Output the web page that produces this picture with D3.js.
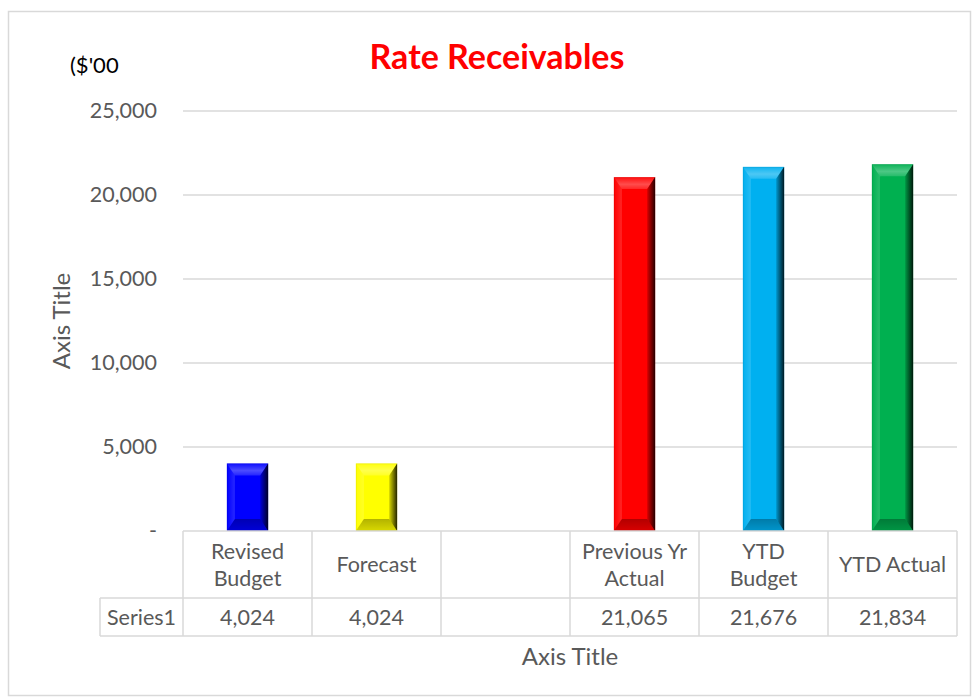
<!DOCTYPE html>
<html>
<head>
<meta charset="utf-8">
<script src="https://cdn.jsdelivr.net/npm/d3@7"></script>
<style>
  html, body { margin: 0; padding: 0; background: #fff; }
  svg { display: block; font-family: Lato, "Open Sans", sans-serif; }
</style>
</head>
<body>
<svg id="chart" width="974" height="698"></svg>
<script>
// Rate receivables by category ($'00)
const categories = [["Revised", "Budget"], ["Forecast"], [], ["Previous Yr", "Actual"], ["YTD", "Budget"], ["YTD Actual"]];
const values = [4024, 4024, null, 21065, 21676, 21834];
const barColors = ["#0000FF", "#FFFF00", "#FFFFFF", "#FF0000", "#00B0F0", "#00B050"];
const yTicks = [0, 5000, 10000, 15000, 20000, 25000];
const seriesName = "Series1";

const svg = d3.select("#chart");
const grey = "#595959";
const lineGrey = "#d9d9d9";

// chart frame
svg.append("rect").attr("x", 8.5).attr("y", 11.5).attr("width", 962).attr("height", 684)
  .attr("fill", "#fff").attr("stroke", lineGrey).attr("stroke-width", 1.5);

const plot = { left: 183, right: 957, top: 111, bottom: 531 };

const x = d3.scaleBand().domain(d3.range(categories.length))
  .range([plot.left, plot.right]).paddingInner(0).paddingOuter(0);
const y = d3.scaleLinear().domain([0, 25000]).range([plot.bottom, plot.top]);

// gradients used as bevel overlays
const defs = svg.append("defs");
function grad(id, x1, y1, x2, y2, stops) {
  const g = defs.append("linearGradient").attr("id", id)
    .attr("x1", x1).attr("y1", y1).attr("x2", x2).attr("y2", y2);
  stops.forEach(s => g.append("stop").attr("offset", s[0]).attr("stop-color", s[1]).attr("stop-opacity", s[2]));
}
grad("bevTop", 0, 0, 0, 1, [[0, "#fff", 0.05], [0.6, "#fff", 0.3], [1, "#fff", 0.15]]);
grad("bevBottom", 0, 0, 0, 1, [[0, "#000", 0.3], [1, "#000", 0.15]]);
grad("bevLeft", 0, 0, 1, 0, [[0, "#fff", 0.0], [1, "#fff", 0.15]]);
grad("bevRight", 0, 0, 1, 0, [[0, "#000", 0.15], [1, "#000", 0.85]]);

// gridlines + y axis
const yAxis = d3.axisLeft(y).tickValues(yTicks)
  .tickFormat(d => d === 0 ? "-" : d3.format(",")(d))
  .tickSize(0).tickPadding(26);
const ga = svg.append("g").attr("transform", `translate(${plot.left},0)`).call(yAxis);
ga.select(".domain").remove();
ga.selectAll("text").attr("fill", grey).style("font-size", "21.5px")
  .style("font-family", "Lato, sans-serif");

svg.append("g").selectAll("line").data(yTicks.filter(d => d > 0)).join("line")
  .attr("x1", plot.left).attr("x2", plot.right)
  .attr("y1", d => y(d)).attr("y2", d => y(d))
  .attr("stroke", lineGrey).attr("stroke-width", 1.5);

// bars with bevelled edges
const bw = x.bandwidth() * 0.32;
const bevSide = 8, bevEnd = 12;
const bars = svg.append("g").selectAll("g").data(values.map((v, i) => ({ v, i })).filter(d => d.v != null))
  .join("g");
bars.each(function (d) {
  const g = d3.select(this);
  const x0 = x(d.i) + (x.bandwidth() - bw) / 2, x1 = x0 + bw;
  const y0 = y(d.v), y1 = y(0);
  const bs = bevSide, be = Math.min(bevEnd, (y1 - y0) / 2);
  g.append("rect").attr("x", x0).attr("y", y0).attr("width", bw).attr("height", y1 - y0)
    .attr("fill", barColors[d.i]);
  const poly = (pts, fill) => g.append("polygon").attr("points", pts.map(p => p.join(",")).join(" ")).attr("fill", fill);
  poly([[x0, y0], [x1, y0], [x1 - bs, y0 + be], [x0 + bs, y0 + be]], "url(#bevTop)");
  poly([[x0, y1], [x1, y1], [x1 - bs, y1 - be], [x0 + bs, y1 - be]], "url(#bevBottom)");
  poly([[x0, y0], [x0 + bs, y0 + be], [x0 + bs, y1 - be], [x0, y1]], "url(#bevLeft)");
  poly([[x1, y0], [x1 - bs, y0 + be], [x1 - bs, y1 - be], [x1, y1]], "url(#bevRight)");
  g.append("rect").attr("x", x0 + 0.5).attr("y", y0 + 0.5).attr("width", bw - 1).attr("height", y1 - y0 - 1)
    .attr("fill", "none").attr("stroke", "#000").attr("stroke-opacity", 0.06);
});

// data table below the axis
const rowTop = plot.bottom, rowMid = 598, rowBot = 636, seriesLeft = 100;
const t = svg.append("g").attr("stroke", lineGrey).attr("stroke-width", 1.5);
t.append("line").attr("x1", plot.left).attr("x2", plot.right).attr("y1", rowTop).attr("y2", rowTop);
t.append("line").attr("x1", seriesLeft).attr("x2", plot.right).attr("y1", rowMid).attr("y2", rowMid);
t.append("line").attr("x1", seriesLeft).attr("x2", plot.right).attr("y1", rowBot).attr("y2", rowBot);
t.append("line").attr("x1", seriesLeft).attr("x2", seriesLeft).attr("y1", rowMid).attr("y2", rowBot);
const colEdges = d3.range(categories.length).map(i => x(i)).concat([x.range()[1]]);
t.selectAll("line.col").data(colEdges).join("line").attr("class", "col")
  .attr("x1", d => d).attr("x2", d => d).attr("y1", rowTop).attr("y2", rowBot);

const txt = svg.append("g").attr("fill", grey).style("font-size", "21.5px").attr("text-anchor", "middle");
categories.forEach((lines, i) => {
  const cx = x(i) + x.bandwidth() / 2;
  const mid = (rowTop + rowMid) / 2;
  lines.forEach((ln, k) => {
    txt.append("text").attr("x", cx).attr("y", mid + (k - (lines.length - 1) / 2) * 27)
      .attr("dy", "0.35em").text(ln);
  });
  if (values[i] != null) {
    txt.append("text").attr("x", cx).attr("y", (rowMid + rowBot) / 2).attr("dy", "0.35em")
      .text(d3.format(",")(values[i]));
  }
});
txt.append("text").attr("x", (seriesLeft + plot.left) / 2).attr("y", (rowMid + rowBot) / 2)
  .attr("dy", "0.35em").text(seriesName);

// titles
svg.append("text").attr("x", 497).attr("y", 57).attr("dy", "0.35em").attr("text-anchor", "middle")
  .attr("fill", "#FF0000").style("font-size", "34px").style("font-weight", "bold").text("Rate Receivables");
svg.append("text").attr("x", 70).attr("y", 65).attr("dy", "0.35em")
  .attr("fill", "#000").style("font-size", "22px").text("($'00");
svg.append("text").attr("x", (plot.left + plot.right) / 2).attr("y", 657).attr("dy", "0.35em")
  .attr("text-anchor", "middle").attr("fill", grey).style("font-size", "24px").text("Axis Title");
svg.append("text").attr("transform", `translate(62,${(plot.top + plot.bottom) / 2}) rotate(-90)`)
  .attr("dy", "0.35em").attr("text-anchor", "middle").attr("fill", grey).style("font-size", "24px").text("Axis Title");
</script>
</body>
</html>
